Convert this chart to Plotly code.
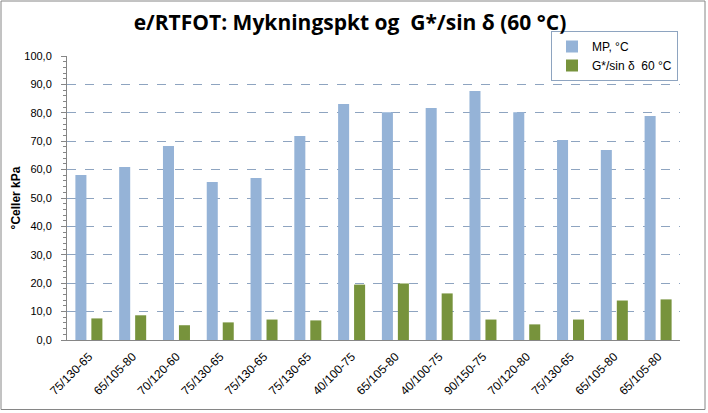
import plotly.graph_objects as go

categories = ["75/130-65", "65/105-80", "70/120-60", "75/130-65", "75/130-65", "75/130-65",
              "40/100-75", "65/105-80", "40/100-75", "90/150-75", "70/120-80", "75/130-65",
              "65/105-80", "65/105-80"]
mp_values = [58.1, 60.9, 68.3, 55.6, 57.0, 71.8, 83.1, 80.2, 81.7, 87.7, 80.2, 70.4, 66.9, 78.9]
g_values = [7.6, 8.7, 5.2, 6.2, 7.2, 6.9, 19.5, 19.9, 16.4, 7.2, 5.5, 7.2, 13.9, 14.3]
y_ticks = [0, 10, 20, 30, 40, 50, 60, 70, 80, 90, 100]

W, H = 708, 413
L, R, T, B = 67, 28, 56, 73
pw, ph = W - L - R, H - T - B

x_idx = list(range(len(categories)))

fig = go.Figure()
fig.add_trace(go.Bar(x=x_idx, y=mp_values, name="MP, °C", marker_color="#95B3D7",
                     marker_line_width=0))
fig.add_trace(go.Bar(x=x_idx, y=g_values, name="G*/sin δ  60 °C", marker_color="#77933C",
                     marker_line_width=0))

font_family = "Liberation Sans, Arial, sans-serif"

def px2x(px):
    return (px - L) / pw

def py2y(py):
    return (H - B - py) / ph

fig.update_layout(
    width=W, height=H,
    margin=dict(l=L, r=R, t=T, b=B, autoexpand=False),
    paper_bgcolor="white", plot_bgcolor="white",
    barmode="group", bargap=0.27, bargroupgap=0.31,
    separators=",.",
    font=dict(family=font_family, size=11, color="#000000"),
    title=dict(text="<b>e/RTFOT: Mykningspkt og  G*/sin δ (60 °C)</b>",
               x=350 / W, xanchor="center", xref="container",
               y=1 - 23 / H, yanchor="middle", yref="container",
               font=dict(family="Open Sans, sans-serif", size=21, color="#000000")),
    showlegend=True,
    legend=dict(xref="paper", yref="paper", x=px2x(678), y=py2y(31),
                xanchor="right", yanchor="top", bordercolor="#8EA4C0", borderwidth=1,
                bgcolor="white", font=dict(size=12, family=font_family),
                tracegroupgap=3, itemwidth=30),
    xaxis=dict(
        tickmode="array", tickvals=x_idx, ticktext=categories, tickangle=-45,
        range=[-0.5, len(categories) - 0.5],
        showline=True, linecolor="#868686", linewidth=1, ticks="",
        showgrid=False, zeroline=False, tickfont=dict(size=12, color="#000000"),
        ticklabelstandoff=4,
    ),
    yaxis=dict(
        range=[0, 100], tickmode="array", tickvals=y_ticks, tickformat=".1f",
        showline=True, linecolor="#868686", linewidth=1,
        ticks="outside", ticklen=5, tickcolor="#868686",
        minor=dict(dtick=2, ticks="outside", ticklen=3, tickcolor="#868686", showgrid=False),
        showgrid=True, gridcolor="#8EA4C0", griddash="dash", gridwidth=1,
        zeroline=False, ticklabelstandoff=7,
        tickfont=dict(size=11, color="#000000"),
        title=dict(text="<b>°Celler kPa</b>", standoff=1, font=dict(size=12)),
    ),
)

fig.add_shape(type="rect", xref="paper", yref="paper",
              x0=px2x(1), x1=px2x(705), y0=py2y(409.5), y1=py2y(1),
              line=dict(color="#868686", width=1), fillcolor="rgba(0,0,0,0)", layer="above")

fig.write_html("out.html")
